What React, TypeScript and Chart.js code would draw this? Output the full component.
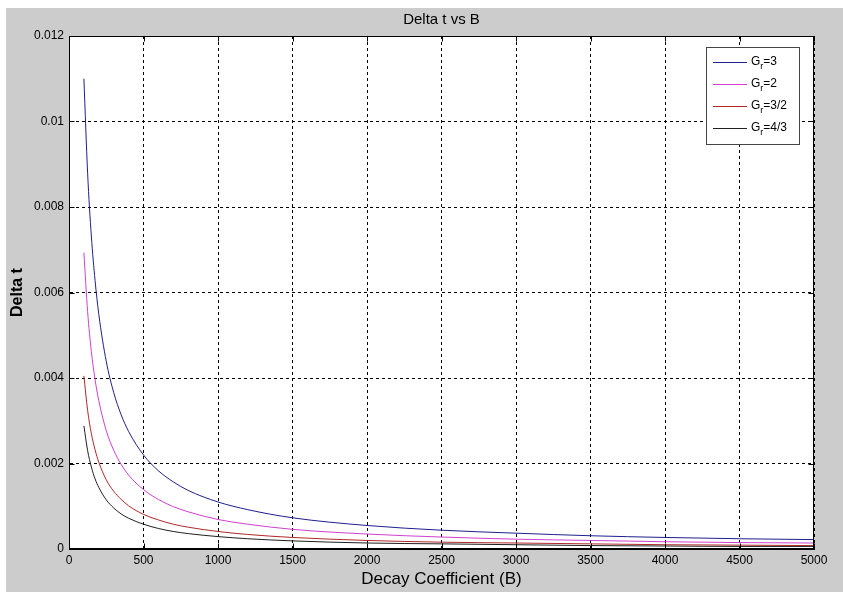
import { useEffect, useRef } from "react";
import { Chart, registerables } from "chart.js";

Chart.register(...registerables);

const B_VALUES = [
  100, 125, 150, 175, 200, 250, 300, 350, 400, 500, 600, 700, 800, 1000,
  1200, 1500, 2000, 2500, 3000, 3500, 4000, 4500, 5000,
];
const GR_VALUES = ["3", "2", "3/2", "4/3"];
const GR3 = [
  0.011, 0.00879, 0.00732, 0.00628, 0.00549, 0.00439, 0.00366, 0.00314,
  0.00275, 0.0022, 0.00183, 0.00157, 0.00137, 0.0011, 0.00092, 0.00073,
  0.00055, 0.00044, 0.00037, 0.00031, 0.00027, 0.00024, 0.00022,
];
const GR2 = [
  0.00693, 0.00555, 0.00462, 0.00396, 0.00347, 0.00277, 0.00231, 0.00198,
  0.00173, 0.00139, 0.00116, 0.00099, 0.00087, 0.00069, 0.00058, 0.00046,
  0.00035, 0.00028, 0.00023, 0.0002, 0.00017, 0.00015, 0.00014,
];
const GR32 = [
  0.00405, 0.00324, 0.0027, 0.00232, 0.00203, 0.00162, 0.00135, 0.00116,
  0.00101, 0.00081, 0.00068, 0.00058, 0.00051, 0.00041, 0.00034, 0.00027,
  0.0002, 0.00016, 0.00014, 0.00012, 0.0001, 0.00009, 0.00008,
];
const GR43 = [
  0.00288, 0.0023, 0.00192, 0.00164, 0.00144, 0.00115, 0.00096, 0.00082,
  0.00072, 0.00058, 0.00048, 0.00041, 0.00036, 0.00029, 0.00024, 0.00019,
  0.00014, 0.00012, 0.0001, 0.00008, 0.00007, 0.00006, 0.00006,
];
const SERIES = [GR3, GR2, GR32, GR43];
const COLORS = ["#1f1f8f", "#d040d0", "#b02828", "#202020"];

const FONT = '"Liberation Sans", Arial, sans-serif';

// figure background, white axes, box, inner ticks, titles and the legend
const matlabLook = {
  id: "matlabLook",
  beforeDraw(chart: any) {
    const { ctx, chartArea: a, width, height } = chart;
    ctx.save();
    ctx.fillStyle = "#cccccc";
    ctx.fillRect(0, 0, width, height);
    ctx.fillStyle = "#ffffff";
    ctx.fillRect(a.left, a.top, a.right - a.left, a.bottom - a.top);
    ctx.restore();
  },
  afterDraw(chart: any) {
    const { ctx, chartArea: a, scales } = chart;
    const l = Math.round(a.left) + 0.5;
    const r = Math.round(a.right) - 0.5;
    const t = Math.round(a.top) + 0.5;
    const b = Math.round(a.bottom) - 0.5;
    ctx.save();
    ctx.strokeStyle = "#000";
    ctx.lineWidth = 1;
    ctx.setLineDash([]);
    ctx.strokeRect(l, t, r - l, b - t);

    ctx.beginPath();
    scales.x.ticks.forEach((tk: any) => {
      const px = Math.round(scales.x.getPixelForValue(tk.value)) + 0.5;
      ctx.moveTo(px, b);
      ctx.lineTo(px, b - 5);
      ctx.moveTo(px, t);
      ctx.lineTo(px, t + 5);
    });
    scales.y.ticks.forEach((tk: any) => {
      const py = Math.round(scales.y.getPixelForValue(tk.value)) + 0.5;
      ctx.moveTo(l, py);
      ctx.lineTo(l + 5, py);
      ctx.moveTo(r, py);
      ctx.lineTo(r - 5, py);
    });
    ctx.stroke();

    ctx.fillStyle = "#000";
    ctx.textAlign = "center";
    ctx.textBaseline = "middle";
    const cx = (a.left + a.right) / 2;
    ctx.font = `15px ${FONT}`;
    ctx.fillText("Delta t vs B", cx, a.top - 16);
    ctx.font = `17px ${FONT}`;
    ctx.fillText("Decay Coefficient (B)", cx, a.bottom + 30);
    ctx.save();
    ctx.translate(12, (a.top + a.bottom) / 2);
    ctx.rotate(-Math.PI / 2);
    ctx.font = `bold 16px ${FONT}`;
    ctx.fillText("Delta t", 0, 0);
    ctx.restore();

    // legend
    const lx = Math.round(a.right) - 108;
    const ly = Math.round(a.top) + 11;
    ctx.fillStyle = "#fff";
    ctx.fillRect(lx, ly, 93, 97);
    ctx.strokeStyle = "#444";
    ctx.strokeRect(lx + 0.5, ly + 0.5, 93, 97);
    ctx.textAlign = "left";
    GR_VALUES.forEach((g, i) => {
      const ry = ly + 15 + i * 22;
      ctx.strokeStyle = COLORS[i];
      ctx.beginPath();
      ctx.moveTo(lx + 7, ry + 0.5);
      ctx.lineTo(lx + 41, ry + 0.5);
      ctx.stroke();
      ctx.fillStyle = "#000";
      ctx.font = `12px ${FONT}`;
      ctx.fillText("G", lx + 45, ry);
      const gw = ctx.measureText("G").width;
      ctx.font = `9px ${FONT}`;
      ctx.fillText("r", lx + 45 + gw, ry + 5);
      const rw = ctx.measureText("r").width;
      ctx.font = `12px ${FONT}`;
      ctx.fillText("=" + g, lx + 45 + gw + rw, ry);
    });
    ctx.restore();
  },
};

function DeltaChart() {
  const canvasRef = useRef<HTMLCanvasElement>(null);

  useEffect(() => {
    if (!canvasRef.current) return;
    const chart = new Chart(canvasRef.current, {
      type: "line",
      data: {
        datasets: SERIES.map((s, i) => ({
          label: `Gr=${GR_VALUES[i]}`,
          data: B_VALUES.map((b, j) => ({ x: b, y: s[j] })),
          borderColor: COLORS[i],
          borderWidth: 1,
          pointRadius: 0,
          fill: false,
          cubicInterpolationMode: "monotone" as const,
        })),
      },
      options: {
        responsive: true,
        maintainAspectRatio: false,
        animation: false,
        layout: { padding: { left: 0, top: 28, right: 29, bottom: 0 } },
        plugins: {
          legend: { display: false },
          title: { display: false },
          tooltip: { enabled: false },
        },
        scales: {
          x: {
            type: "linear",
            min: 0,
            max: 5000,
            ticks: {
              stepSize: 500,
              color: "#000",
              font: { family: FONT, size: 12 },
              padding: 4,
              maxRotation: 0,
              callback: (v: any) => String(v),
            },
            grid: { color: "#000", lineWidth: 1, drawTicks: false },
            border: { display: true, color: "#000", dash: [3, 3] },
            afterFit: (s: any) => {
              s.height = 43;
            },
          },
          y: {
            type: "linear",
            min: 0,
            max: 0.012,
            ticks: {
              stepSize: 0.002,
              color: "#000",
              font: { family: FONT, size: 12 },
              padding: 5,
              callback: (v: any) => String(+Number(v).toFixed(4)),
            },
            grid: { color: "#000", lineWidth: 1, drawTicks: false },
            border: { display: true, color: "#000", dash: [3, 3] },
            afterFit: (s: any) => {
              s.width = 63;
            },
          },
        },
      },
      plugins: [matlabLook],
    });
    return () => chart.destroy();
  }, []);

  return (
    <div style={{ position: "fixed", left: 6, top: 8, width: 837, height: 584 }}>
      <canvas ref={canvasRef} role="img" aria-label="Delta t vs B line chart" />
    </div>
  );
}

export default function App() {
  return <DeltaChart />;
}
